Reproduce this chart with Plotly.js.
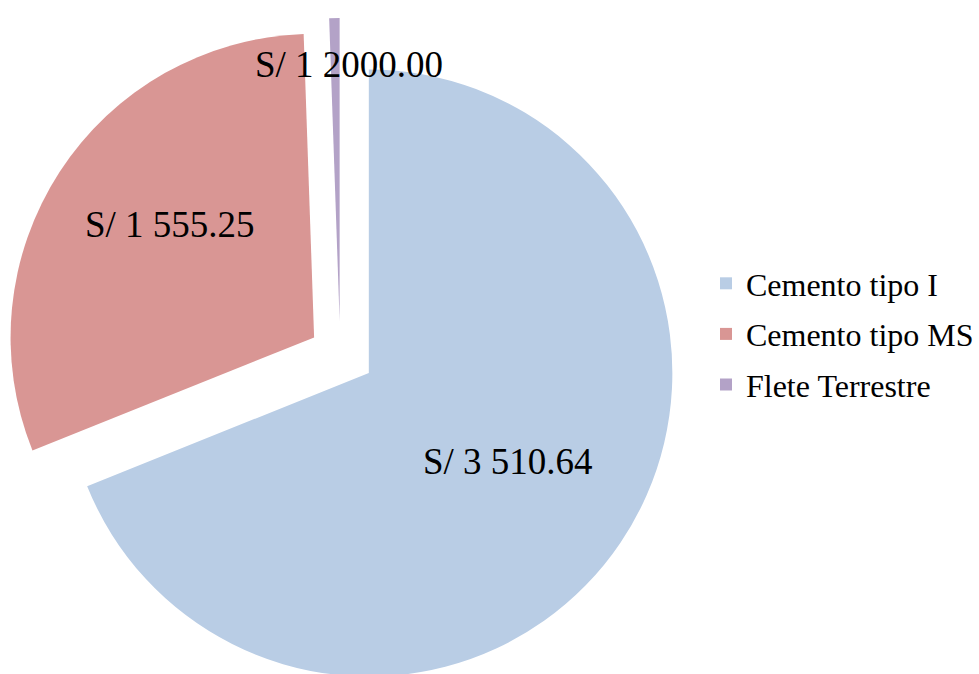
<!DOCTYPE html>
<html>
<head>
<meta charset="utf-8">
<script src="https://cdn.plot.ly/plotly-3.0.1.min.js"></script>
<style>
html,body{margin:0;padding:0;overflow:hidden;background:#fff}
#chart{width:979px;height:746px}
</style>
</head>
<body>
<div id="chart"></div>
<script>
// ---- data ----
const categories = ['Cemento tipo I', 'Cemento tipo MS', 'Flete Terrestre'];
const values = [3510.64, 1555.25, 28];
const valueLabels = ['S/ 3 510.64', 'S/ 1 555.25', 'S/ 1 2000.00'];

// ---- styles ----
const W = 979, H = 746;
const sliceColors = ['#B9CDE5', '#D99694', '#B3A2C7'];
const clear = 'rgba(0,0,0,0)';
const serif = '"Liberation Serif", "Times New Roman", serif';
const labelFont = {family: serif, size: 37, color: '#000'};

// main pie: blue + exploded red (purple slot left empty, drawn by its own trace)
const mainPie = {
  type: 'pie',
  labels: categories,
  values: values,
  sort: false,
  direction: 'clockwise',
  rotation: 0,
  marker: {colors: [sliceColors[0], sliceColors[1], clear], line: {width: 0}},
  pull: [0, 0.215, 0],
  textinfo: 'none',
  domain: {x: [0, 746 / W], y: [0, 1]},
  showlegend: false,
  hoverinfo: 'skip'
};

// exploded purple slice (same angles, displaced pie centre)
const fletePie = {
  type: 'pie',
  labels: categories,
  values: values,
  sort: false,
  direction: 'clockwise',
  rotation: 0,
  marker: {colors: [clear, clear, sliceColors[2]], line: {width: 0}},
  textinfo: 'none',
  domain: {x: [0.03728, 0.66445], y: [0.15751, 0.98057]},
  showlegend: false,
  hoverinfo: 'skip'
};

// legend entries
const legendPies = categories.map((c, i) => ({
  type: 'pie',
  labels: [c],
  values: [values[i]],
  marker: {colors: [sliceColors[i]]},
  textinfo: 'none',
  hoverinfo: 'skip',
  domain: {x: [0.99999, 1], y: [0.99999, 1]},
  legendgroup: 'g' + i,
  showlegend: true
}));

// data-label positions (pixel centres in the 979 x 746 paper)
const labelPos = [[513.5, 461.5], [172, 225], [352.5, 65]];

const layout = {
  width: W,
  height: H,
  margin: {l: 0, r: 0, t: 0, b: 0, pad: 0},
  paper_bgcolor: '#fff',
  showlegend: true,
  hovermode: false,
  legend: {
    x: 714 / W, xanchor: 'left',
    y: 1 - 256 / H, yanchor: 'top',
    font: {family: serif, size: 32, color: '#000'},
    traceorder: 'grouped',
    tracegroupgap: 6,
    bgcolor: clear,
    borderwidth: 0
  },
  annotations: valueLabels.map((t, i) => ({
    text: t, xref: 'paper', yref: 'paper',
    x: labelPos[i][0] / W, y: 1 - labelPos[i][1] / H,
    xanchor: 'center', yanchor: 'middle', showarrow: false,
    font: labelFont
  }))
};

Plotly.newPlot('chart', [mainPie, fletePie].concat(legendPies), layout,
  {displayModeBar: false, staticPlot: true});
</script>
</body>
</html>
